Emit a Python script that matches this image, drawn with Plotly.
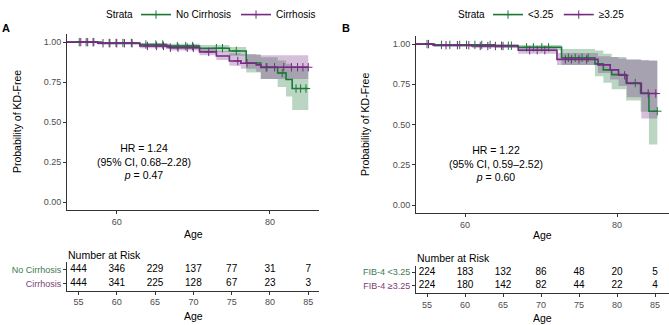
import numpy as np
import plotly.graph_objects as go

FONT = "Liberation Sans, Arial, sans-serif"
GREEN = "#1B7837"
PURPLE = "#762A83"
GREEN_TXT = "#3E7A52"
PURPLE_TXT = "#7A3F74"
GREEN_FILL = "rgba(27,120,55,0.30)"
PURPLE_FILL = "rgba(118,42,131,0.30)"
AXIS = "#333333"
TICKTXT = "#4D4D4D"
W, H = 669, 325

# ---------------- Panel A data (Cirrhosis) ----------------
a_start, a_end = 53.5, 85.0
a_nc_time = [58.0, 63.0, 66.5, 70.8, 74.7, 76.9, 78.8, 81.0, 82.1, 82.9]
a_nc_surv = [0.995, 0.985, 0.975, 0.962, 0.945, 0.870, 0.842, 0.807, 0.766, 0.710]
a_nc_low = [0.985, 0.972, 0.960, 0.940, 0.915, 0.810, 0.770, 0.720, 0.660, 0.575]
a_nc_up = [1.0, 0.995, 0.990, 0.982, 0.970, 0.925, 0.905, 0.885, 0.865, 0.850]
a_nc_cens = [55.1, 56.0, 56.9, 59.0, 59.9, 60.8, 61.9, 63.8, 65.1, 66.0, 67.9, 69.0,
             69.9, 73.0, 73.8, 75.6, 79.5, 81.6, 83.4, 84.0, 84.7]

a_c_time = [57.5, 63.0, 66.9, 70.8, 73.0, 74.7, 76.2, 78.2, 78.8]
a_c_surv = [0.993, 0.976, 0.965, 0.939, 0.913, 0.882, 0.868, 0.858, 0.843]
a_c_low = [0.985, 0.962, 0.948, 0.918, 0.888, 0.852, 0.833, 0.815, 0.770]
a_c_up = [1.0, 0.990, 0.982, 0.962, 0.945, 0.930, 0.925, 0.920, 0.918]
a_c_cens = [55.3, 56.2, 57.0, 58.2, 59.1, 60.0, 61.0, 62.0, 64.0, 65.2, 66.1, 67.0,
            68.0, 69.2, 70.0, 72.0, 75.8, 77.0, 79.6, 80.6, 81.8, 82.8, 83.6, 84.3, 85.0]

a_labels = ["No Cirrhosis", "Cirrhosis"]
a_risk_nc = [444, 346, 229, 137, 77, 31, 7]
a_risk_c = [444, 341, 225, 128, 67, 23, 3]
a_hr_text = "HR = 1.24<br>(95% CI, 0.68–2.28)<br><i>p</i> = 0.47"

# ---------------- Panel B data (FIB-4) ----------------
b_start, b_end = 53.55, 85.3
b_lo_time = [56.0, 63.9, 67.0, 72.7, 77.1, 78.2, 79.3, 81.2, 83.1, 84.2]
b_lo_surv = [0.995, 0.990, 0.980, 0.915, 0.877, 0.840, 0.810, 0.758, 0.695, 0.583]
b_lo_low = [0.985, 0.978, 0.962, 0.870, 0.800, 0.760, 0.720, 0.650, 0.580, 0.376]
b_lo_up = [1.0, 1.0, 0.995, 0.970, 0.960, 0.940, 0.920, 0.905, 0.900, 0.895]
b_lo_cens = [55.0, 56.9, 58.0, 59.3, 60.2, 61.3, 62.2, 63.3, 64.8, 65.7, 66.1, 68.1,
             69.0, 70.1, 71.0, 73.6, 74.5, 75.4, 76.2, 82.4, 85.3]

b_hi_time = [55.8, 60.9, 67.0, 72.1, 77.5, 79.1, 80.2, 81.3, 83.2]
b_hi_surv = [0.993, 0.988, 0.962, 0.905, 0.871, 0.840, 0.806, 0.756, 0.693]
b_hi_low = [0.982, 0.975, 0.940, 0.870, 0.820, 0.780, 0.740, 0.670, 0.537]
b_hi_up = [1.0, 0.998, 0.980, 0.945, 0.925, 0.920, 0.910, 0.905, 0.900]
b_hi_cens = [55.2, 57.5, 59.0, 60.5, 62.0, 63.0, 64.0, 65.0, 68.5, 69.5, 70.5,
             73.2, 74.0, 75.0, 76.0, 81.0, 84.1, 85.1]

b_labels = ["FIB-4 &lt;3.25", "FIB-4 ≥3.25"]
b_legend = ["&lt;3.25", "≥3.25"]
b_risk_lo = [224, 183, 132, 86, 48, 20, 5]
b_risk_hi = [224, 180, 142, 82, 44, 22, 4]
b_hr_text = "HR = 1.22<br>(95% CI, 0.59–2.52)<br><i>p</i> = 0.60"

risk_ages = [55, 60, 65, 70, 75, 80, 85]
y_ticks = [0, 0.25, 0.5, 0.75, 1.0]


def px(x):
    return x / W


def py(y):
    return 1 - y / H


def step_xy(start, end, times, vals):
    xs = [start] + list(times) + [end]
    ys = [1.0] + list(vals) + [vals[-1]]
    return xs, ys


def surv_at(times, surv, t):
    idx = np.searchsorted(np.array(times), np.array(t), side="right")
    s = np.concatenate([[1.0], np.array(surv)])
    return s[idx]


fig = go.Figure()


def add_ribbon(xa, ya, start, end, times, low, up, fill):
    lx, ly = step_xy(start, end, times, low)
    ux, uy = step_xy(start, end, times, up)
    fig.add_trace(go.Scatter(x=lx, y=ly, mode="lines", line=dict(width=0, shape="hv"),
                             xaxis=xa, yaxis=ya, showlegend=False, hoverinfo="skip"))
    fig.add_trace(go.Scatter(x=ux, y=uy, mode="lines", line=dict(width=0, shape="hv"),
                             fill="tonexty", fillcolor=fill,
                             xaxis=xa, yaxis=ya, showlegend=False, hoverinfo="skip"))


def add_line(xa, ya, start, end, times, surv, cens, color):
    sx, sy = step_xy(start, end, times, surv)
    fig.add_trace(go.Scatter(x=sx, y=sy, mode="lines", line=dict(width=1.6, color=color, shape="hv"),
                             xaxis=xa, yaxis=ya, showlegend=False))
    fig.add_trace(go.Scatter(x=cens, y=surv_at(times, surv, cens), mode="markers",
                             marker=dict(symbol="cross-thin", size=6, line=dict(width=1, color=color)),
                             xaxis=xa, yaxis=ya, showlegend=False))


# Panel A
add_ribbon("x", "y", a_start, a_end, a_nc_time, a_nc_low, a_nc_up, GREEN_FILL)
add_ribbon("x", "y", a_start, a_end, a_c_time, a_c_low, a_c_up, PURPLE_FILL)
add_line("x", "y", a_start, a_end, a_nc_time, a_nc_surv, a_nc_cens, GREEN)
add_line("x", "y", a_start, a_end, a_c_time, a_c_surv, a_c_cens, PURPLE)

# Panel B
add_ribbon("x3", "y3", b_start, b_end, b_lo_time, b_lo_low, b_lo_up, GREEN_FILL)
add_ribbon("x3", "y3", b_start, b_end, b_hi_time, b_hi_low, b_hi_up, PURPLE_FILL)
add_line("x3", "y3", b_start, b_end, b_lo_time, b_lo_surv, b_lo_cens, GREEN)
add_line("x3", "y3", b_start, b_end, b_hi_time, b_hi_surv, b_hi_cens, PURPLE)

# Legend entries
for name, col, lg in [(a_labels[0], GREEN, "legend"), (a_labels[1], PURPLE, "legend"),
                      (b_legend[0], GREEN, "legend2"), (b_legend[1], PURPLE, "legend2")]:
    fig.add_trace(go.Scatter(x=[None], y=[None], mode="lines+markers", name=name,
                             line=dict(color=col, width=1.6),
                             marker=dict(symbol="cross-thin", size=6, line=dict(width=1, color=col)),
                             legend=lg, xaxis="x", yaxis="y"))

# Risk tables
for xa, ya, vals, row in [("x2", "y2", a_risk_nc, 1), ("x2", "y2", a_risk_c, 0),
                          ("x4", "y4", b_risk_lo, 1), ("x4", "y4", b_risk_hi, 0)]:
    fig.add_trace(go.Scatter(x=risk_ages, y=[row] * len(risk_ages), mode="text",
                             text=[str(v) for v in vals],
                             textfont=dict(size=10, color="black", family=FONT),
                             xaxis=xa, yaxis=ya, showlegend=False, hoverinfo="skip"))

ax_common = dict(showline=True, linecolor=AXIS, linewidth=1, ticks="outside", ticklen=3,
                 tickcolor=AXIS, tickwidth=1, showgrid=False, zeroline=False,
                 tickfont=dict(size=9, color=TICKTXT, family=FONT), fixedrange=True)

a_xdom = [px(67), px(319)]
b_xdom = [px(416), 1.0]
a_xr = [53.5, 86.4]
b_xr = [53.55, 86.84]

LEG_A_X, LEG_B_X = 136, 488
leg_common = dict(orientation="h", y=1.025, yanchor="top", xanchor="left",
                  font=dict(size=10, family=FONT), bgcolor="rgba(0,0,0,0)", itemwidth=30,
                  traceorder="normal")

fig.update_layout(
    width=W, height=H, margin=dict(l=0, r=0, t=0, b=0),
    paper_bgcolor="white", plot_bgcolor="white",
    font=dict(family=FONT, size=10, color="black"),
    xaxis=dict(domain=a_xdom, range=a_xr, tickvals=[60, 80], anchor="y", **ax_common),
    yaxis=dict(domain=[py(207.2), py(26.8)], range=[-0.05, 1.05], tickvals=y_ticks,
               tickformat=".2f", anchor="x", **ax_common),
    xaxis2=dict(domain=a_xdom, range=a_xr, tickvals=risk_ages, anchor="y2", **ax_common),
    yaxis2=dict(domain=[py(289.75), py(260.75)], range=[-0.5, 1.5], tickvals=[0, 1],
                ticktext=[f'<span style="color:{PURPLE_TXT}">{a_labels[1]}</span>',
                          f'<span style="color:{GREEN_TXT}">{a_labels[0]}</span>'],
                anchor="x2", **ax_common),
    xaxis3=dict(domain=b_xdom, range=b_xr, tickvals=[60, 80], anchor="y3", **ax_common),
    yaxis3=dict(domain=[py(210.25), py(28.75)], range=[-0.05, 1.05], tickvals=y_ticks,
                tickformat=".2f", anchor="x3", **ax_common),
    xaxis4=dict(domain=b_xdom, range=b_xr, tickvals=risk_ages, anchor="y4", **ax_common),
    yaxis4=dict(domain=[py(292), py(264)], range=[-0.5, 1.5], tickvals=[0, 1],
                ticktext=[f'<span style="color:{PURPLE_TXT}">{b_labels[1]}</span>',
                          f'<span style="color:{GREEN_TXT}">{b_labels[0]}</span>'],
                anchor="x4", **ax_common),
    legend=dict(x=px(LEG_A_X), **leg_common),
    legend2=dict(x=px(LEG_B_X), **leg_common),
)

ann = []


def text_ann(t, x, y, size=10.5, angle=0, xanchor="center", bold=False):
    ann.append(dict(text=f"<b>{t}</b>" if bold else t, x=px(x), y=py(y), xref="paper", yref="paper",
                    showarrow=False, textangle=angle, xanchor=xanchor, yanchor="middle",
                    font=dict(size=size, family=FONT, color="black")))


text_ann("A", 6, 20, size=11, bold=True)
text_ann("B", 346, 20, size=11, bold=True)
text_ann("Strata", LEG_A_X - 1, 7, size=10, xanchor="right")
text_ann("Strata", LEG_B_X - 1, 7, size=10, xanchor="right")
text_ann("Probability of KD-Free", 17, 117, angle=-90)
text_ann("Probability of KD-Free", 365, 119, angle=-90)
text_ann("Age", 193, 232)
text_ann("Age", 542, 233)
text_ann("Age", 193, 316)
text_ann("Age", 542, 318)
text_ann("Number at Risk", 66, 253, xanchor="left")
text_ann("Number at Risk", 415, 256, xanchor="left")

ann.append(dict(text=a_hr_text, x=63.5, y=0.256, xref="x", yref="y", showarrow=False,
                font=dict(size=10.5, family=FONT, color="black"), align="center"))
ann.append(dict(text=b_hr_text, x=64.1, y=0.255, xref="x3", yref="y3", showarrow=False,
                font=dict(size=10.5, family=FONT, color="black"), align="center"))

fig.update_layout(annotations=ann)
fig.write_html("out.html", config={"displayModeBar": False},
               post_script="document.body.style.margin='0';document.body.style.overflow='hidden';")
